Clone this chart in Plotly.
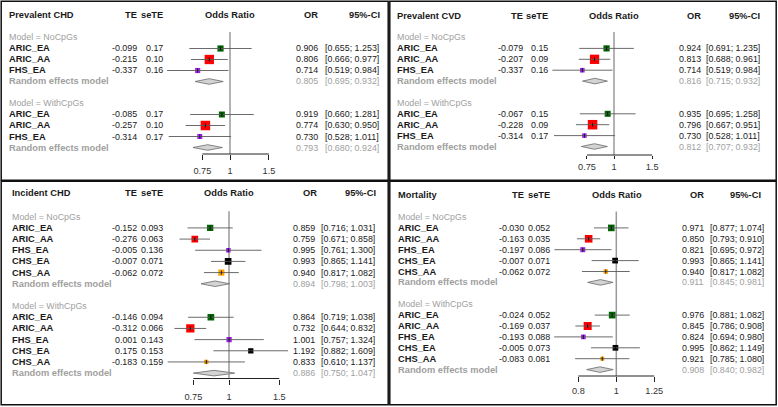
import math
import plotly.graph_objects as go

W, H = 778, 407

# ---------------- data ----------------
studies3 = ["ARIC_EA", "ARIC_AA", "FHS_EA"]
studies5 = ["ARIC_EA", "ARIC_AA", "FHS_EA", "CHS_EA", "CHS_AA"]
models = ["NoCpGs", "WithCpGs"]

# Prevalent CHD
pchd_te = [[-0.099, -0.215, -0.337], [-0.085, -0.257, -0.314]]
pchd_se = [[0.17, 0.10, 0.16], [0.17, 0.10, 0.17]]
pchd_or = [[0.906, 0.806, 0.714], [0.919, 0.774, 0.730]]
pchd_lo = [[0.655, 0.666, 0.519], [0.660, 0.630, 0.528]]
pchd_hi = [[1.253, 0.977, 0.984], [1.281, 0.950, 1.011]]
pchd_w = [[25.4, 57.0, 17.6], [23.8, 59.6, 16.6]]
pchd_re = [[0.805, 0.695, 0.932], [0.793, 0.680, 0.924]]

# Prevalent CVD
pcvd_te = [[-0.079, -0.207, -0.337], [-0.067, -0.228, -0.314]]
pcvd_se = [[0.15, 0.09, 0.16], [0.15, 0.09, 0.17]]
pcvd_or = [[0.924, 0.813, 0.714], [0.935, 0.796, 0.730]]
pcvd_lo = [[0.691, 0.688, 0.519], [0.695, 0.667, 0.528]]
pcvd_hi = [[1.235, 0.961, 0.984], [1.258, 0.951, 1.011]]
pcvd_w = [[26.3, 59.1, 14.6], [24.7, 61.6, 13.7]]
pcvd_re = [[0.816, 0.715, 0.932], [0.812, 0.707, 0.932]]

# Incident CHD
ichd_te = [[-0.152, -0.276, -0.005, -0.007, -0.062], [-0.146, -0.312, 0.001, 0.175, -0.183]]
ichd_se = [[0.093, 0.063, 0.136, 0.071, 0.072], [0.094, 0.066, 0.143, 0.153, 0.159]]
ichd_or = [[0.859, 0.759, 0.995, 0.993, 0.940], [0.864, 0.732, 1.001, 1.192, 0.833]]
ichd_lo = [[0.716, 0.671, 0.761, 0.865, 0.817], [0.719, 0.644, 0.757, 0.882, 0.610]]
ichd_hi = [[1.031, 0.858, 1.300, 1.141, 1.082], [1.038, 0.832, 1.324, 1.609, 1.137]]
ichd_w = [[21.7, 23.6, 11.1, 23.6, 19.9], [23.8, 36.6, 14.9, 14.9, 9.8]]
ichd_re = [[0.894, 0.798, 1.003], [0.886, 0.750, 1.047]]

# Mortality
mort_te = [[-0.030, -0.163, -0.197, -0.007, -0.062], [-0.024, -0.169, -0.193, -0.005, -0.083]]
mort_se = [[0.052, 0.035, 0.086, 0.071, 0.072], [0.052, 0.037, 0.088, 0.073, 0.081]]
mort_or = [[0.971, 0.850, 0.821, 0.993, 0.940], [0.976, 0.845, 0.824, 0.995, 0.921]]
mort_lo = [[0.877, 0.793, 0.695, 0.865, 0.817], [0.881, 0.786, 0.694, 0.862, 0.785]]
mort_hi = [[1.074, 0.910, 0.972, 1.141, 1.082], [1.082, 0.908, 0.980, 1.149, 1.080]]
mort_w = [[24.6, 32.1, 14.1, 18.1, 11.1], [25.0, 35.7, 12.3, 18.1, 8.9]]
mort_re = [[0.911, 0.845, 0.981], [0.908, 0.840, 0.982]]

ticks_a = [0.75, 1, 1.5]
ticks_b = [0.8, 1, 1.25]
tick_text_a = ["0.75", "1", "1.5"]
tick_text_b = ["0.8", "1", "1.25"]

# ---------------- styles / layout geometry ----------------
study_color = {"ARIC_EA": "#006400", "ARIC_AA": "#FF0000", "FHS_EA": "#A020F0",
               "CHS_EA": "#000000", "CHS_AA": "#FFA500"}
FONT = "Liberation Sans, Arial, sans-serif"
FS_B = 9.3   # bold text
FS_R = 8.9   # regular text
GRAY = "#a0a0a0"
TXT = "#1a1a1a"

panels = [
    dict(title="Prevalent CHD", studies=studies3, te=pchd_te, se=pchd_se, orv=pchd_or,
         lo=pchd_lo, hi=pchd_hi, w=pchd_w, re=pchd_re, sed=2, ticks=ticks_a, tt=tick_text_a,
         c=230, k=96, xl=140, xr=320, y0=15.5, h=11.0, top=4, axis=154, hdr=15.5,
         smax=9.5, standoff=3, ticklen=5,
         cols=dict(name=9, te=136.7, se=162.7, orr=318.3, ci=379.3),
         hcols=dict(title=9, te=136.5, se=163, oddc=229.5, orr=318, ci=380)),
    dict(title="Prevalent CVD", studies=studies3, te=pcvd_te, se=pcvd_se, orv=pcvd_or,
         lo=pcvd_lo, hi=pcvd_hi, w=pcvd_w, re=pcvd_re, sed=2, ticks=ticks_a, tt=tick_text_a,
         c=614, k=94, xl=530, xr=700, y0=15.7, h=10.9, top=4, axis=155, hdr=15.7,
         smax=9.5, standoff=0, ticklen=3,
         cols=dict(name=397, te=523, se=548, orr=701.3, ci=760.3),
         hcols=dict(title=397, te=523, se=547.5, oddc=613.5, orr=700.7, ci=760.3)),
    dict(title="Incident CHD", studies=studies5, te=ichd_te, se=ichd_se, orv=ichd_or,
         lo=ichd_lo, hi=ichd_hi, w=ichd_w, re=ichd_re, sed=3, ticks=ticks_a, tt=tick_text_a,
         c=229, k=124, xl=150, xr=310, y0=194.4, h=11.17, top=184, axis=378.5, hdr=193.5,
         smax=8.3, standoff=4, ticklen=5,
         cols=dict(name=11.7, te=136.7, se=162.7, orr=315, ci=375),
         hcols=dict(title=11.7, te=136.7, se=163, oddc=228.7, orr=316.7, ci=376)),
    dict(title="Mortality", studies=studies5, te=mort_te, se=mort_se, orv=mort_or,
         lo=mort_lo, hi=mort_hi, w=mort_w, re=mort_re, sed=3, ticks=ticks_b, tt=tick_text_b,
         c=616.3, k=170, xl=540, xr=680, y0=195.2, h=10.9, top=184, axis=376, hdr=195,
         smax=8.0, standoff=1, ticklen=5,
         cols=dict(name=398, te=523.7, se=550.3, orr=703.7, ci=763.7),
         hcols=dict(title=398, te=523.7, se=550.3, oddc=616.7, orr=704, ci=760.7)),
]

fig = go.Figure()
annotations = []
shapes = []
layout_axes = {}


def fx(p):
    return p / W


def fy(p):
    return 1 - p / H


def ann(text, xpx, yref, y, anchor, color=TXT, bold=False):
    annotations.append(dict(
        text=("<b>%s</b>" % text) if bold else text, x=fx(xpx), xref="paper",
        y=y, yref=yref, xanchor=anchor, yanchor="middle", showarrow=False,
        borderpad=0, borderwidth=0,
        font=dict(family=FONT, size=FS_B if bold else FS_R, color=color)))


for pi, P in enumerate(panels):
    n = len(P["studies"])
    sfx = "" if pi == 0 else str(pi + 1)
    xa, ya = "x" + sfx, "y" + sfx
    k10 = P["k"] * math.log(10)
    ybot = P["axis"] + 12
    row = lambda px, P=P: (px - P["y0"]) / P["h"]
    layout_axes["xaxis" + sfx] = dict(
        type="log", domain=[fx(P["xl"]), fx(P["xr"])],
        range=[(P["xl"] - P["c"]) / k10, (P["xr"] - P["c"]) / k10],
        anchor="free", position=fy(P["axis"]),
        tickvals=P["ticks"], ticktext=P["tt"], ticks="outside", ticklen=P["ticklen"],
        tickwidth=1, tickcolor="#222", showline=False, showgrid=False,
        zeroline=False, ticklabelstandoff=P["standoff"],
        tickfont=dict(family=FONT, size=FS_R + 0.3, color="#333"))
    layout_axes["yaxis" + sfx] = dict(
        domain=[fy(ybot), fy(P["top"])], range=[row(ybot), row(P["top"])],
        anchor="free", position=fx(P["xl"]), visible=False, showgrid=False,
        zeroline=False)

    axis_row = row(P["axis"])
    # reference line at OR = 1
    fig.add_trace(go.Scatter(x=[1, 1], y=[1.5, axis_row], mode="lines",
                             line=dict(color="#9a9a9a", width=1.5),
                             xaxis=xa, yaxis=ya, hoverinfo="skip"))
    # axis line
    fig.add_trace(go.Scatter(x=[P["ticks"][0], P["ticks"][-1]], y=[axis_row, axis_row],
                             mode="lines", line=dict(color="#222", width=1),
                             xaxis=xa, yaxis=ya, hoverinfo="skip"))

    hc = P["hcols"]
    hy = row(P["hdr"])
    ann(P["title"], hc["title"], ya, hy, "left", bold=True)
    ann("TE", hc["te"], ya, hy, "right", bold=True)
    ann("seTE", hc["se"], ya, hy, "right", bold=True)
    ann("Odds Ratio", hc["oddc"], ya, hy, "center", bold=True)
    ann("OR", hc["orr"], ya, hy, "right", bold=True)
    ann("95%-CI", hc["ci"], ya, hy, "right", bold=True)

    cols = P["cols"]
    wmax = max(max(wm) for wm in P["w"])
    for m, mname in enumerate(models):
        base = m * (n + 3)
        ann("Model = " + mname, cols["name"], ya, 2 + base, "left", color=GRAY)
        rows = [3 + base + i for i in range(n)]
        ci_x, ci_y = [], []
        for i, s in enumerate(P["studies"]):
            r = rows[i]
            ci_x += [P["lo"][m][i], P["hi"][m][i], None]
            ci_y += [r, r, None]
            ann(s, cols["name"], ya, r, "left", bold=True)
            ann("%.3f" % P["te"][m][i], cols["te"], ya, r, "right")
            ann(("%." + str(P["sed"]) + "f") % P["se"][m][i], cols["se"], ya, r, "right")
            ann("%.3f" % P["orv"][m][i], cols["orr"], ya, r, "right")
            ann("[%.3f; %.3f]" % (P["lo"][m][i], P["hi"][m][i]), cols["ci"], ya, r, "right")
        sizes = [P["smax"] * math.sqrt(wv / wmax) for wv in P["w"][m]]
        fig.add_trace(go.Scatter(
            x=P["orv"][m], y=rows, mode="markers",
            marker=dict(symbol="square", size=sizes, opacity=1,
                        color=[study_color[s] for s in P["studies"]], line=dict(width=0)),
            xaxis=xa, yaxis=ya, hoverinfo="skip"))
        fig.add_trace(go.Scatter(x=ci_x, y=ci_y, mode="lines",
                                 line=dict(color="#5a5a5a", width=0.9),
                                 xaxis=xa, yaxis=ya, hoverinfo="skip"))
        fig.add_trace(go.Scatter(
            x=P["orv"][m], y=rows, mode="markers",
            marker=dict(symbol="line-ns", size=3, line=dict(color="#000", width=0.8)),
            xaxis=xa, yaxis=ya, hoverinfo="skip"))
        # random effects diamond
        rr = 3 + base + n
        est, lo, hi = P["re"][m]
        dh = 2.8 / P["h"]
        fig.add_trace(go.Scatter(
            x=[lo, est, hi, est, lo], y=[rr, rr - dh, rr, rr + dh, rr],
            mode="lines", fill="toself", fillcolor="#d3d3d3",
            line=dict(color="#6a6a6a", width=0.8),
            xaxis=xa, yaxis=ya, hoverinfo="skip"))
        ann("Random effects model", cols["name"], ya, rr, "left", color=GRAY, bold=True)
        ann("%.3f" % est, cols["orr"], ya, rr, "right", color=GRAY)
        ann("[%.3f; %.3f]" % (lo, hi), cols["ci"], ya, rr, "right", color=GRAY)

# panel frames
for (x0, y0, x1, y1) in [(1.2, 1.2, 388.2, 180.2), (389.8, 1.2, 776.2, 180.2),
                          (1.2, 181.2, 388.2, 404.8), (389.8, 181.2, 776.2, 404.8)]:
    shapes.append(dict(type="rect", xref="paper", yref="paper",
                       x0=fx(x0), x1=fx(x1), y0=fy(y1), y1=fy(y0),
                       line=dict(color="#111", width=1.5), fillcolor="rgba(0,0,0,0)"))

fig.update_layout(width=W, height=H, margin=dict(l=0, r=0, t=0, b=0),
                  paper_bgcolor="white", plot_bgcolor="rgba(0,0,0,0)",
                  showlegend=False, annotations=annotations, shapes=shapes,
                  **layout_axes)
fig.write_html("out.html", config={"displayModeBar": False},
               post_script="document.body.style.margin='0';document.body.style.overflow='hidden';")
